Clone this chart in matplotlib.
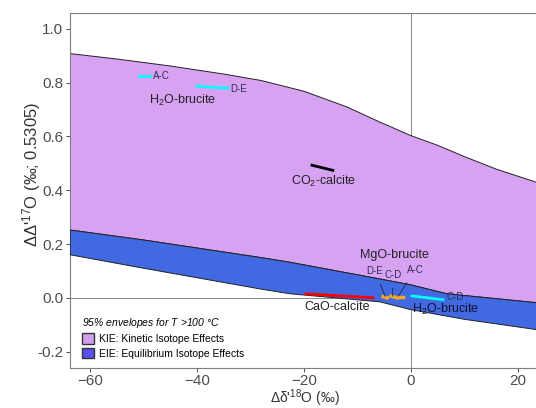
import numpy as np
import matplotlib
matplotlib.use("Agg")
import matplotlib.pyplot as plt
from matplotlib.patches import Patch

plt.rcParams['font.family'] = ['Liberation Sans', 'DejaVu Sans']
plt.rcParams['mathtext.fontset'] = 'custom'
plt.rcParams['mathtext.rm'] = 'Liberation Sans'
plt.rcParams['mathtext.it'] = 'Liberation Sans:italic'

# envelope boundaries (x = Δδ'18O, y = ΔΔ'17O)
kie_top_x = [-63.7, -55, -45, -35, -28, -20, -12, -6, 0, 5, 10, 16, 23.4, 26]
kie_top_y = [0.908, 0.888, 0.862, 0.832, 0.808, 0.768, 0.71, 0.655, 0.603, 0.567, 0.525, 0.478, 0.43, 0.414]
eie_top_x = [-63.7, -50, -28.2, -22.6, -5.8, 0, 6.7, 23.4, 26]
eie_top_y = [0.252, 0.215, 0.15, 0.132, 0.07, 0.048, 0.015, -0.018, -0.022]
eie_bot_x = [-63.7, -50, -28.2, -22.6, -5.8, 0, 10, 23.4, 26]
eie_bot_y = [0.16, 0.11, 0.033, 0.015, -0.015, -0.044, -0.08, -0.118, -0.126]

# reaction segments
h2o_kie_ac_x = [-50.9, -48.8]; h2o_kie_ac_y = [0.824, 0.824]
h2o_kie_de_x = [-40.0, -34.2]; h2o_kie_de_y = [0.787, 0.779]
co2_x = [-18.5, -14.6]; co2_y = [0.493, 0.474]
cao_x = [-19.6, -7.1]; cao_y = [0.015, 0.0]
h2o_eie_cd_x = [0.2, 6.0]; h2o_eie_cd_y = [0.007, -0.007]
mgo_de_x = [-5.2, -4.4]; mgo_de_y = [0.004, 0.0]
mgo_cd_x = [-3.7, -2.6]; mgo_cd_y = [0.006, 0.0]
mgo_ac_x = [-2.6, -1.4]; mgo_ac_y = [0.004, 0.004]

kie_col = '#D8A2F2'
eie_col = '#4169E1'
lab_col = '#2E2E55'

fig = plt.figure(figsize=(5.36, 4.08), dpi=100)
ax = fig.add_axes([70/536, 40/408, 480/536, 355/408])

ax.axhline(0, color='#888888', lw=0.7, zorder=1)
ax.axvline(0, color='#888888', lw=0.7, zorder=1)

# KIE polygon
px = kie_top_x + eie_top_x[::-1]
py = kie_top_y + eie_top_y[::-1]
ax.fill(px, py, facecolor=kie_col, edgecolor='#222222', lw=0.7, zorder=2)
# EIE polygon
px = eie_top_x + eie_bot_x[::-1]
py = eie_top_y + eie_bot_y[::-1]
ax.fill(px, py, facecolor=eie_col, edgecolor='#222222', lw=0.7, zorder=3)

ax.plot(h2o_kie_ac_x, h2o_kie_ac_y, color='cyan', lw=2, zorder=4)
ax.plot(h2o_kie_de_x, h2o_kie_de_y, color='cyan', lw=2, zorder=4)
ax.plot(co2_x, co2_y, color='black', lw=2, zorder=4)
ax.plot(cao_x, cao_y, color='red', lw=2, zorder=4)
ax.plot(h2o_eie_cd_x, h2o_eie_cd_y, color='cyan', lw=2, zorder=4)
for xs, ys in [(mgo_de_x, mgo_de_y), (mgo_cd_x, mgo_cd_y), (mgo_ac_x, mgo_ac_y)]:
    ax.plot(xs, ys, color='#F5A623', lw=2.5, zorder=4)

small = 7
big = 9
ax.text(-48.3, 0.824, 'A-C', fontsize=small, color=lab_col, va='center', zorder=5)
ax.text(-33.8, 0.777, 'D-E', fontsize=small, color=lab_col, va='center', zorder=5)
ax.text(-42.6, 0.735, r'H$_2$O-brucite', fontsize=big, color='#222222', ha='center', va='center', zorder=5)
ax.text(-16.3, 0.434, r'CO$_2$-calcite', fontsize=big, color='#222222', ha='center', va='center', zorder=5)
ax.text(-3.0, 0.158, 'MgO-brucite', fontsize=big, color='#222222', ha='center', va='center', zorder=5)
ax.annotate('D-E', xy=(-4.8, 0.005), xytext=(-6.7, 0.099), fontsize=small, color=lab_col,
            ha='center', va='center', zorder=5,
            arrowprops=dict(arrowstyle='-', color='#222244', lw=0.6, shrinkA=4, shrinkB=0))
ax.annotate('C-D', xy=(-3.4, 0.006), xytext=(-3.4, 0.085), fontsize=small, color=lab_col,
            ha='center', va='center', zorder=5,
            arrowprops=dict(arrowstyle='-', color='#222244', lw=0.6, shrinkA=4, shrinkB=0))
ax.annotate('A-C', xy=(-2.4, 0.006), xytext=(0.75, 0.103), fontsize=small, color=lab_col,
            ha='center', va='center', zorder=5,
            arrowprops=dict(arrowstyle='-', color='#222244', lw=0.6, shrinkA=4, shrinkB=0))
ax.text(-13.8, -0.033, 'CaO-calcite', fontsize=big, color='#222222', ha='center', va='center', zorder=5)
ax.text(6.6, 0.004, 'C-D', fontsize=small, color=lab_col, va='center', zorder=5)
ax.text(6.4, -0.042, r'H$_2$O-brucite', fontsize=big, color='#111133', ha='center', va='center', zorder=5)

handles = [Patch(facecolor='#D49EF0', edgecolor='#333333', label='KIE: Kinetic Isotope Effects'),
           Patch(facecolor='#5A50F0', edgecolor='#333333', label='EIE: Equilibrium Isotope Effects')]
leg = ax.legend(handles=handles, loc='lower left', bbox_to_anchor=(0.005, 0.0), frameon=False,
                fontsize=7.5, title=r'95% envelopes for $T$ >100 °C', title_fontsize=7.5,
                handlelength=1.2, handleheight=1.2, labelspacing=0.35, handletextpad=0.5)
leg.get_title().set_fontstyle('italic')
leg._legend_box.align = 'left'

ax.set_xlim(-63.74, 26.0)
ax.set_ylim(-0.261, 1.059)
ax.set_xticks([-60, -40, -20, 0, 20])
ax.set_yticks([-0.2, 0.0, 0.2, 0.4, 0.6, 0.8, 1.0])
ax.set_yticklabels(['-0.2', '0.0', '0.2', '0.4', '0.6', '0.8', '1.0'])
ax.tick_params(colors='#333333', labelcolor='#4D4D4D', labelsize=11, length=3, width=0.6, pad=2)
ax.tick_params(axis='x', pad=1)
for s in ['left', 'bottom', 'top']:
    ax.spines[s].set_color('#7F7F7F')
    ax.spines[s].set_linewidth(0.8)
ax.spines['right'].set_visible(False)

ax.set_xlabel("Δδ'$^{18}$O (‰)", fontsize=10, color='#333333')
ax.xaxis.set_label_coords((305 - 70) / 480, -0.056)
ax.set_ylabel("ΔΔ'$^{17}$O (‰; 0.5305)", fontsize=12, color='#333333')
ax.yaxis.set_label_coords(-0.056, 0.546)

fig.savefig('out.png', dpi=100)
